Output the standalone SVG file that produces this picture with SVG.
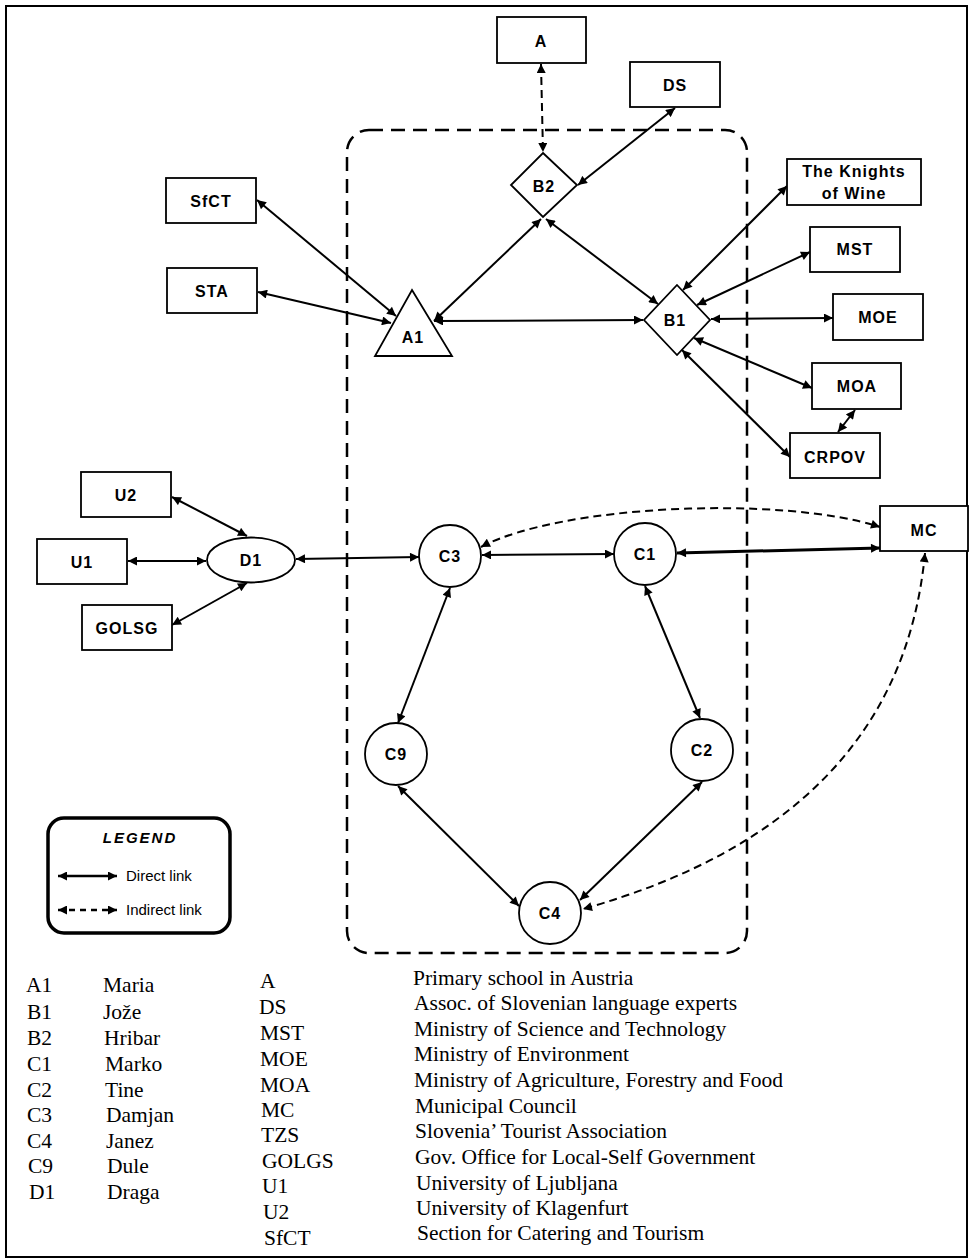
<svg xmlns="http://www.w3.org/2000/svg" width="971" height="1260" viewBox="0 0 971 1260">
<style>
.node{fill:#fff;stroke:#000;stroke-width:1.8}
.lbl{font-family:"Liberation Sans",Arial,sans-serif;font-weight:bold;font-size:16px;letter-spacing:1px;text-anchor:middle;dominant-baseline:central;fill:#000}
.c{fill:none;stroke:#000;stroke-width:2;marker-start:url(#ah);marker-end:url(#ah)}
.d{fill:none;stroke:#000;stroke-width:2;stroke-dasharray:8 5;marker-start:url(#ah);marker-end:url(#ah)}
.tm{font-family:"Liberation Serif","Times New Roman",serif;font-size:21.5px;fill:#000}
.lg{font-family:"Liberation Sans",Arial,sans-serif;font-size:15px;fill:#000}
</style>
<defs>
<marker id="ah" viewBox="0 0 10 10" refX="10" refY="5" markerWidth="11" markerHeight="9" markerUnits="userSpaceOnUse" orient="auto-start-reverse"><path d="M0,0 L10,5 L0,10 z" fill="#000"/></marker>
</defs>
<rect x="0" y="0" width="971" height="1260" fill="#fff"/>
<rect x="6" y="6" width="961" height="1251" fill="none" stroke="#000" stroke-width="2"/>
<rect x="347" y="130" width="400" height="823" rx="22" fill="none" stroke="#000" stroke-width="2.5" stroke-dasharray="14 8"/>

<g id="connectors">
<path class="d" d="M541,64 L543,152"/>
<path class="c" d="M675,108 L578,185"/>
<path class="c" d="M541,219 L434,321"/>
<path class="c" d="M546,219 L658,304"/>
<path class="c" d="M434,321 L643,320"/>
<path class="c" d="M257,200 L396,316"/>
<path class="c" d="M258,292 L391,323"/>
<path class="c" d="M787,186 L683,290"/>
<path class="c" d="M810,252 L697,305"/>
<path class="c" d="M833,318 L711,319"/>
<path class="c" d="M812,388 L694,338"/>
<path class="c" d="M790,457 L682,350"/>
<path class="c" d="M855,410 L838,432"/>
<path class="c" d="M172,497 L247,536"/>
<path class="c" d="M128,561 L206,561"/>
<path class="c" d="M172,625 L247,583"/>
<path class="c" d="M296,559 L419,557"/>
<path class="c" d="M482,555 L614,554"/>
<path class="c" d="M677,553 L880,548" style="stroke-width:3"/>
<path class="d" d="M481,547 C560,505 780,495 880,527"/>
<path class="d" d="M925,553 Q900,820 583,909"/>
<path class="c" d="M450,588 L398,723"/>
<path class="c" d="M645,586 L700,718"/>
<path class="c" d="M398,786 L519,906"/>
<path class="c" d="M702,782 L580,900"/>
</g>

<g id="A"><rect class="node" x="497" y="17" width="89" height="46"/><text class="lbl" x="541" y="41">A</text></g>
<g id="DS"><rect class="node" x="630" y="62" width="90" height="45"/><text class="lbl" x="675" y="85">DS</text></g>
<g id="B2"><path class="node" d="M543,153 L577,185 L543,217 L511,185 Z"/><text class="lbl" x="544" y="186">B2</text></g>
<g id="SfCT"><rect class="node" x="166" y="178" width="90" height="45"/><text class="lbl" x="211" y="201">SfCT</text></g>
<g id="STA"><rect class="node" x="167" y="268" width="90" height="45"/><text class="lbl" x="212" y="291">STA</text></g>
<g id="A1"><path class="node" d="M412,290 L452,356 L375,356 Z"/><text class="lbl" x="413" y="337">A1</text></g>
<g id="B1"><path class="node" d="M677,285 L710,320 L677,355 L644,320 Z"/><text class="lbl" x="675" y="320">B1</text></g>
<g id="Knights"><rect class="node" x="787" y="159" width="134" height="46"/><text class="lbl" x="854" y="171">The Knights</text><text class="lbl" x="854" y="193">of Wine</text></g>
<g id="MST"><rect class="node" x="810" y="227" width="90" height="45"/><text class="lbl" x="855" y="249">MST</text></g>
<g id="MOE"><rect class="node" x="833" y="294" width="90" height="46"/><text class="lbl" x="878" y="317">MOE</text></g>
<g id="MOA"><rect class="node" x="812" y="363" width="89" height="46"/><text class="lbl" x="857" y="386">MOA</text></g>
<g id="CRPOV"><rect class="node" x="790" y="433" width="90" height="45"/><text class="lbl" x="835" y="457">CRPOV</text></g>
<g id="MC"><rect class="node" x="880" y="506" width="88" height="45"/><text class="lbl" x="924" y="530">MC</text></g>
<g id="U2"><rect class="node" x="81" y="472" width="90" height="45"/><text class="lbl" x="126" y="495">U2</text></g>
<g id="U1"><rect class="node" x="37" y="539" width="90" height="45"/><text class="lbl" x="82" y="562">U1</text></g>
<g id="GOLSG"><rect class="node" x="82" y="605" width="90" height="45"/><text class="lbl" x="127" y="628">GOLSG</text></g>
<g id="D1"><ellipse class="node" cx="251" cy="560" rx="44" ry="22.5"/><text class="lbl" x="251" y="560">D1</text></g>
<g id="C3"><circle class="node" cx="450" cy="556" r="31"/><text class="lbl" x="450" y="556">C3</text></g>
<g id="C1"><circle class="node" cx="645" cy="554" r="31"/><text class="lbl" x="645" y="554">C1</text></g>
<g id="C9"><circle class="node" cx="396" cy="754" r="31"/><text class="lbl" x="396" y="754">C9</text></g>
<g id="C2"><circle class="node" cx="702" cy="750" r="31"/><text class="lbl" x="702" y="750">C2</text></g>
<g id="C4"><circle class="node" cx="550" cy="913" r="31"/><text class="lbl" x="550" y="913">C4</text></g>

<g id="legend">
<rect x="48" y="818" width="182" height="115" rx="16" fill="none" stroke="#000" stroke-width="3.5"/>
<text x="140" y="843" font-family="Liberation Sans,Arial,sans-serif" font-weight="bold" font-style="italic" font-size="15" letter-spacing="2" text-anchor="middle">LEGEND</text>
<path class="c" d="M58,876 L117,876" style="stroke-width:2.5"/>
<text class="lg" x="126" y="881">Direct link</text>
<path class="d" d="M58,910 L117,910" style="stroke-dasharray:6 5;stroke-width:2.5"/>
<text class="lg" x="126" y="915">Indirect link</text>
</g>

<g id="key" class="tm">
<text x="26" y="992">A1</text><text x="103" y="992">Maria</text>
<text x="27" y="1019">B1</text><text x="103" y="1019">Jože</text>
<text x="27" y="1045">B2</text><text x="104" y="1045">Hribar</text>
<text x="27" y="1071">C1</text><text x="105" y="1071">Marko</text>
<text x="27" y="1097">C2</text><text x="105" y="1097">Tine</text>
<text x="27" y="1122">C3</text><text x="106" y="1122">Damjan</text>
<text x="27" y="1148">C4</text><text x="106" y="1148">Janez</text>
<text x="28" y="1173">C9</text><text x="107" y="1173">Dule</text>
<text x="29" y="1199">D1</text><text x="107" y="1199">Draga</text>
<text x="260" y="988">A</text><text x="413" y="985">Primary school in Austria</text>
<text x="259" y="1014">DS</text><text x="414" y="1010">Assoc. of Slovenian language experts</text>
<text x="260" y="1040">MST</text><text x="414" y="1036">Ministry of Science and Technology</text>
<text x="260" y="1066">MOE</text><text x="414" y="1061">Ministry of Environment</text>
<text x="260" y="1092">MOA</text><text x="414" y="1087">Ministry of Agriculture, Forestry and Food</text>
<text x="261" y="1117">MC</text><text x="415" y="1113">Municipal Council</text>
<text x="261" y="1142">TZS</text><text x="415" y="1138">Slovenia’ Tourist Association</text>
<text x="262" y="1168">GOLGS</text><text x="415" y="1164">Gov. Office for Local-Self Government</text>
<text x="262" y="1193">U1</text><text x="416" y="1190">University of Ljubljana</text>
<text x="263" y="1219">U2</text><text x="416" y="1215">University of Klagenfurt</text>
<text x="264" y="1245">SfCT</text><text x="417" y="1240">Section for Catering and Tourism</text>
</g>
</svg>
